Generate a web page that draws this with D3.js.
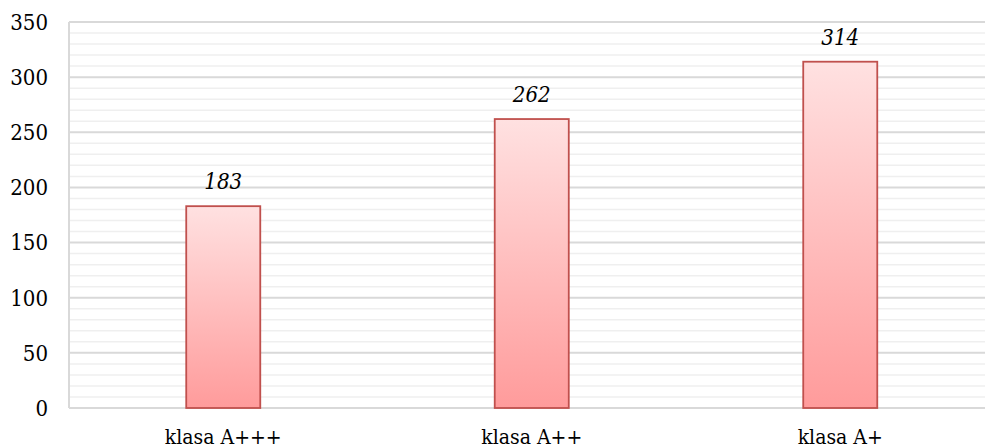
<!DOCTYPE html>
<html>
<head>
<meta charset="utf-8">
<script src="https://cdn.jsdelivr.net/npm/d3@7"></script>
<style>
  body { margin: 0; background: #fff; }
  svg text { font-family: "DejaVu Serif Condensed", "DejaVu Serif", serif; font-stretch: condensed; fill: #000; }
</style>
</head>
<body>
<script>
var categories = ["klasa A+++", "klasa A++", "klasa A+"]
var values = [183, 262, 314]
var yTicks = [0, 50, 100, 150, 200, 250, 300, 350]

var width = 985, height = 448
var margin = {left: 69, top: 22, bottom: 40}
var plotRight = 994.5

var svg = d3.select("body").append("svg")
    .attr("width", width)
    .attr("height", height)

var x = d3.scaleBand()
    .domain(categories)
    .range([margin.left, plotRight])
    .paddingInner(0.76)
    .paddingOuter(0.38)

var y = d3.scaleLinear()
    .domain([0, 350])
    .range([height - margin.bottom, margin.top])

// bar gradient
var grad = svg.append("defs").append("linearGradient")
    .attr("id", "barGrad")
    .attr("x1", 0).attr("y1", 0).attr("x2", 0).attr("y2", 1)
grad.append("stop").attr("offset", "0%").attr("stop-color", "#ffe1e1")
grad.append("stop").attr("offset", "100%").attr("stop-color", "#ff9b9b")

// minor gridlines every 10
var minor = d3.range(10, 351, 10).filter(v => v % 50 !== 0)
svg.append("g")
    .selectAll("line")
    .data(minor)
    .enter().append("line")
    .attr("x1", margin.left).attr("x2", plotRight)
    .attr("y1", d => y(d)).attr("y2", d => y(d))
    .attr("stroke", "#efefef")
    .attr("stroke-width", 1.5)

// major gridlines
svg.append("g")
    .selectAll("line")
    .data(yTicks)
    .enter().append("line")
    .attr("x1", margin.left).attr("x2", plotRight)
    .attr("y1", d => y(d)).attr("y2", d => y(d))
    .attr("stroke", "#d9d9d9")
    .attr("stroke-width", 2)

// left axis line
svg.append("line")
    .attr("x1", margin.left).attr("x2", margin.left)
    .attr("y1", y(350)).attr("y2", y(0))
    .attr("stroke", "#d9d9d9")
    .attr("stroke-width", 2)

// y tick labels
svg.append("g")
    .selectAll("text")
    .data(yTicks)
    .enter().append("text")
    .attr("x", 48)
    .attr("y", d => y(d))
    .attr("dy", "0.36em")
    .attr("text-anchor", "end")
    .style("font-size", "22px")
    .text(d => d)

// bars
svg.append("g")
    .selectAll("rect")
    .data(values)
    .enter().append("rect")
    .attr("x", (d, i) => x(categories[i]))
    .attr("y", d => y(d))
    .attr("width", x.bandwidth())
    .attr("height", d => y(0) - y(d))
    .attr("fill", "url(#barGrad)")
    .attr("stroke", "#c0504d")
    .attr("stroke-width", 1.8)

// value labels
svg.append("g")
    .selectAll("text")
    .data(values)
    .enter().append("text")
    .attr("x", (d, i) => x(categories[i]) + x.bandwidth() / 2)
    .attr("y", d => y(d) - 17)
    .attr("text-anchor", "middle")
    .style("font-size", "22px")
    .style("font-style", "italic")
    .text(d => d)

// category labels
svg.append("g")
    .selectAll("text")
    .data(categories)
    .enter().append("text")
    .attr("x", d => x(d) + x.bandwidth() / 2)
    .attr("y", 444)
    .attr("text-anchor", "middle")
    .style("font-size", "21px")
    .text(d => d)
</script>
</body>
</html>
